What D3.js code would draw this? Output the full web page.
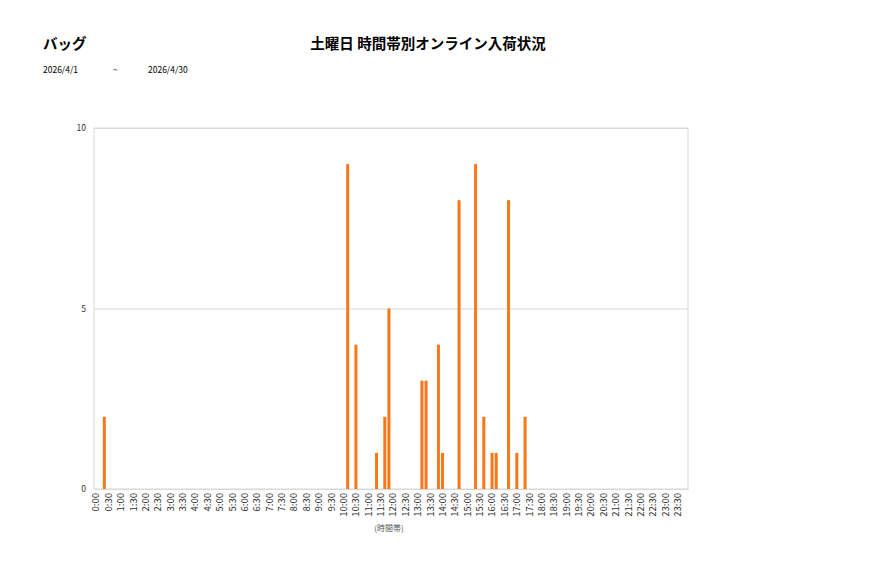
<!DOCTYPE html>
<html><head><meta charset="utf-8">
<script src="https://cdn.jsdelivr.net/npm/d3@7"></script>
<style>
body{margin:0;background:#fff;}
text{font-family:"Noto Sans CJK JP","Noto Sans",sans-serif;}
</style></head>
<body><svg id="c" width="877" height="578"></svg>
<script>
const categoryName = "バッグ";
const chartTitle = "土曜日 時間帯別オンライン入荷状況";
const dateFrom = "2026/4/1";
const dateTo = "2026/4/30";
const xAxisTitle = "(時間帯)";
const yTicks = [0, 5, 10];
// 10-minute slots, 6 per hour
const hours = d3.range(24);
const minutes = ["00","10","20","30","40","50"];
const slots = hours.flatMap(h => minutes.map(m => h + ":" + m));
const tickLabels = slots.filter((s, i) => i % 3 === 0);
const values = [
  0,0,2,0,0,0,  // 0
  0,0,0,0,0,0,  // 1
  0,0,0,0,0,0,  // 2
  0,0,0,0,0,0,  // 3
  0,0,0,0,0,0,  // 4
  0,0,0,0,0,0,  // 5
  0,0,0,0,0,0,  // 6
  0,0,0,0,0,0,  // 7
  0,0,0,0,0,0,  // 8
  0,0,0,0,0,0,  // 9
  0,9,0,4,0,0,  // 10
  0,0,1,0,2,5,  // 11
  0,0,0,0,0,0,  // 12
  0,3,3,0,0,4,  // 13
  1,0,0,0,8,0,  // 14
  0,0,9,0,2,0,  // 15
  1,1,0,0,8,0,  // 16
  1,0,2,0,0,0,  // 17
  0,0,0,0,0,0,  // 18
  0,0,0,0,0,0,  // 19
  0,0,0,0,0,0,  // 20
  0,0,0,0,0,0,  // 21
  0,0,0,0,0,0,  // 22
  0,0,0,0,0,0   // 23
];

const svg = d3.select("#c");
const L = 94, R = 688, T = 128, B = 489;
const x = d3.scaleBand().domain(slots).range([L, R]).paddingInner(0.27).paddingOuter(0.135);
const y = d3.scaleLinear().domain([0, 10]).range([B, T]);

// header
svg.append("text").attr("x", 43).attr("y", 49).attr("font-size", 14.5).attr("font-weight", "bold").text(categoryName);
svg.append("text").attr("x", 428).attr("y", 49).attr("text-anchor", "middle").attr("font-size", 14.5).attr("font-weight", "bold").text(chartTitle);
svg.append("text").attr("x", 43).attr("y", 73).attr("font-size", 8.5).text(dateFrom);
svg.append("text").attr("x", 113).attr("y", 73).attr("font-size", 8.5).text("~");
svg.append("text").attr("x", 148).attr("y", 73).attr("font-size", 8.5).text(dateTo);

// plot frame and gridlines
svg.append("rect").attr("x", L).attr("y", T).attr("width", R - L).attr("height", B - T)
  .attr("fill", "none").attr("stroke", "#d9d9d9").attr("stroke-width", 1);
svg.append("g").selectAll("line").data(yTicks).join("line")
  .attr("x1", L).attr("x2", R).attr("y1", d => y(d) + 0.5).attr("y2", d => y(d) + 0.5)
  .attr("stroke", "#d9d9d9").attr("stroke-width", 1);

// y axis
const yAxis = d3.axisLeft(y).tickValues(yTicks).tickSize(0).tickPadding(8);
const gy = svg.append("g").attr("transform", `translate(${L},0)`).call(yAxis);
gy.select(".domain").remove();
gy.selectAll("text").attr("font-size", 8.5).attr("fill", "#333").style("font-family", '"Noto Sans CJK JP",sans-serif');

// bars
svg.append("g").selectAll("rect").data(slots.map((s, i) => ({s, v: values[i]})).filter(d => d.v > 0)).join("rect")
  .attr("x", d => x(d.s)).attr("width", x.bandwidth())
  .attr("y", d => y(d.v)).attr("height", d => B - y(d.v))
  .attr("fill", "#fa7719");

// x axis
const xAxis = d3.axisBottom(x).tickValues(tickLabels).tickSize(0).tickPadding(0);
const gx = svg.append("g").attr("transform", `translate(0,${B})`).call(xAxis);
gx.select(".domain").attr("stroke", "#d9d9d9");
gx.selectAll("text").attr("font-size", 9.5).attr("fill", "#333")
  .style("font-family", '"Noto Sans CJK JP",sans-serif')
  .attr("text-anchor", "end").attr("dy", "0.35em").attr("dx", 0)
  .attr("transform", "translate(0,4) rotate(-90)").attr("y", 0).attr("x", 0);

svg.append("text").attr("x", 389).attr("y", 531).attr("text-anchor", "middle").attr("font-size", 8).attr("fill", "#555").text(xAxisTitle);
</script></body></html>
